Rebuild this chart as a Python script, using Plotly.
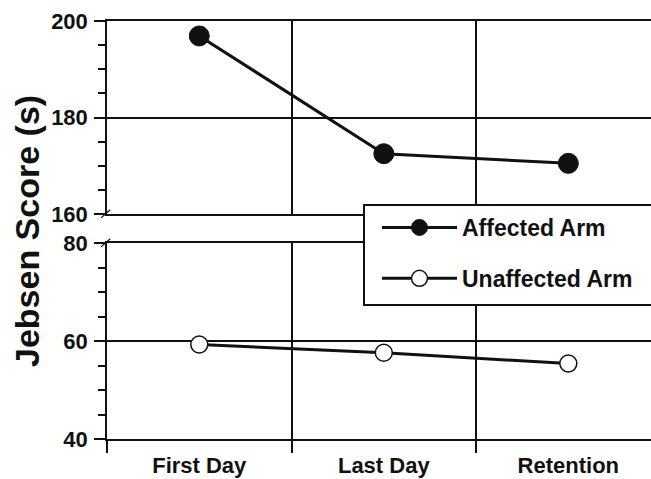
import plotly.graph_objects as go

categories = ["First Day", "Last Day", "Retention"]
affected = [196.9, 172.5, 170.5]
unaffected = [59.3, 57.6, 55.4]
series_names = ["Affected Arm", "Unaffected Arm"]
top_ticks = [160, 180, 200]
bottom_ticks = [40, 60, 80]
y_title = "Jebsen Score (s)"

FAM = "Liberation Sans, Arial, sans-serif"
INK = "#111111"

fig = go.Figure()
fig.add_trace(go.Scatter(
    x=categories, y=affected, name=series_names[0], mode="lines+markers",
    xaxis="x2", yaxis="y2", legendgroup="a",
    line=dict(color=INK, width=3),
    marker=dict(size=20, color=INK, line=dict(color=INK, width=1)),
))
fig.add_trace(go.Scatter(
    x=categories, y=unaffected, name=series_names[1], mode="lines+markers",
    xaxis="x", yaxis="y", legendgroup="b",
    line=dict(color=INK, width=3),
    marker=dict(size=17, color="white", line=dict(color=INK, width=1.5)),
))

tickfont = dict(family=FAM, size=22, color=INK, weight="bold")
xr = [-0.5, 2.448]
common_x = dict(type="category", categoryorder="array", categoryarray=categories,
                range=xr, tickson="boundaries", showgrid=True, gridcolor=INK,
                gridwidth=1.5, showline=True, linecolor=INK, linewidth=1.5,
                mirror=True, zeroline=False)
ycommon = dict(showgrid=True, gridcolor=INK, gridwidth=1.5, showline=True,
               linecolor=INK, linewidth=1.5, ticks="outside", ticklen=11,
               tickwidth=1.5, tickcolor=INK, tickfont=tickfont, zeroline=False,
               ticklabelstandoff=2,
               minor=dict(dtick=5, ticks="outside", ticklen=7, tickwidth=1.5,
                          tickcolor=INK, showgrid=False))
fig.update_layout(
    width=651, height=479,
    margin=dict(l=107, r=0, t=21, b=40),
    paper_bgcolor="white", plot_bgcolor="white",
    showlegend=True,
    xaxis=dict(**common_x, anchor="y", ticks="outside", ticklen=12, tickwidth=1.5,
               tickcolor=INK, tickfont=tickfont, ticklabelstandoff=6),
    xaxis2=dict(**common_x, anchor="y2", ticks="", showticklabels=False),
    yaxis=dict(domain=[0, 196 / 418], range=[40, 80], tickvals=bottom_ticks, **ycommon),
    yaxis2=dict(domain=[225 / 418, 1], range=[160, 200], tickvals=top_ticks, **ycommon),
    legend=dict(x=(377 - 107) / 544, xanchor="left", y=(439 - 206) / 418, yanchor="top",
                bgcolor="rgba(0,0,0,0)", borderwidth=0,
                font=dict(family=FAM, size=23, color=INK, weight="bold"),
                itemsizing="trace", itemwidth=75, tracegroupgap=18),
)

# legend frame (extends past right edge like the reference)
fig.add_shape(type="rect", xref="paper", yref="paper",
              x0=(364 - 107) / 544, x1=1.08, y0=(439 - 305) / 418, y1=(439 - 205) / 418,
              fillcolor="white", line=dict(color=INK, width=2), layer="above")

# axis break marks
fig.add_shape(type="line", xref="x domain", yref="y2 domain",
              x0=-0.011, x1=0.006, y0=-0.02, y1=0.022, line=dict(color=INK, width=1.2))
fig.add_shape(type="line", xref="x domain", yref="y domain",
              x0=-0.011, x1=0.006, y0=0.98, y1=1.022, line=dict(color=INK, width=1.2))

fig.add_annotation(text=y_title, xref="paper", yref="paper",
                   x=(27 - 107) / 544, y=(439 - 231) / 418, textangle=-90,
                   showarrow=False, xanchor="center", yanchor="middle",
                   font=dict(family=FAM, size=34, color=INK, weight="bold"))

fig.write_html("out.html")
